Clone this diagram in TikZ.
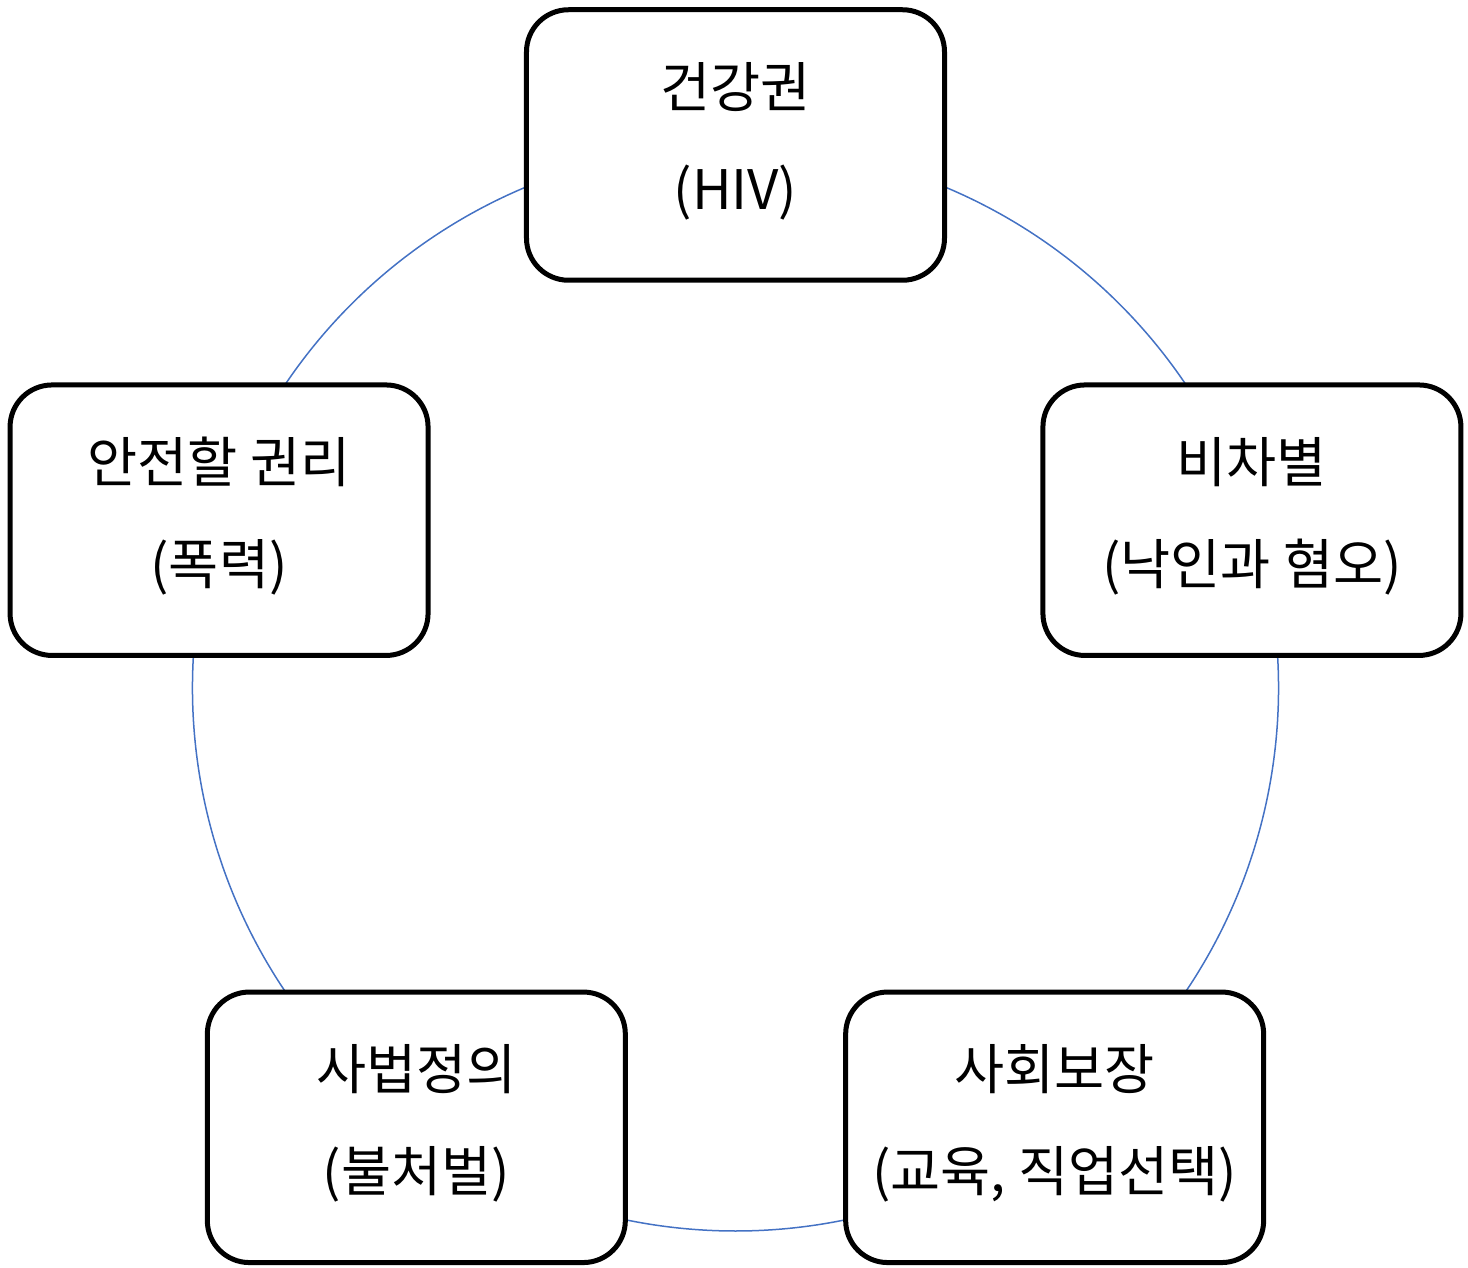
\documentclass[tikz,border=0pt]{standalone}
\usepackage{fontspec}
\newfontfamily\kr{Noto Sans CJK KR}
\usetikzlibrary{backgrounds}
\definecolor{ringblue}{HTML}{4472C4}
\tikzset{
  box/.style={draw, line width=0.1cm, rounded corners=0.84cm, fill=white,
    minimum width=8.36cm, minimum height=5.41cm, inner sep=0pt, align=center,
    text depth=0.37cm, font=\kr\fontsize{31}{58}\selectfont},
  ring/.style={draw=ringblue, line width=0.03cm}
}

\begin{document}
\begin{tikzpicture}
    \useasboundingbox (-14.71,-11.58) rectangle (14.65,13.76);
    \def\R{10.86}
    \node[box] (health)  at (90:\R)   {건강권\\(HIV)};
    \node[box] (equal)   at (18:\R)   {비차별\\(낙인과 혐오)};
    \node[box] (welfare) at (-54:\R)  {사회보장\\(교육, 직업선택)};
    \node[box] (justice) at (-126:\R) {사법정의\\(불처벌)};
    \node[box] (safety)  at (162:\R)  {안전할 권리\\(폭력)};
    \begin{scope}[on background layer]
      \foreach \n/\a in {health/90, safety/162, justice/234, welfare/306, equal/378}
        \draw[ring] (\n.center) arc[start angle=\a, delta angle=72, radius=\R];
    \end{scope}
\end{tikzpicture}
\end{document}
